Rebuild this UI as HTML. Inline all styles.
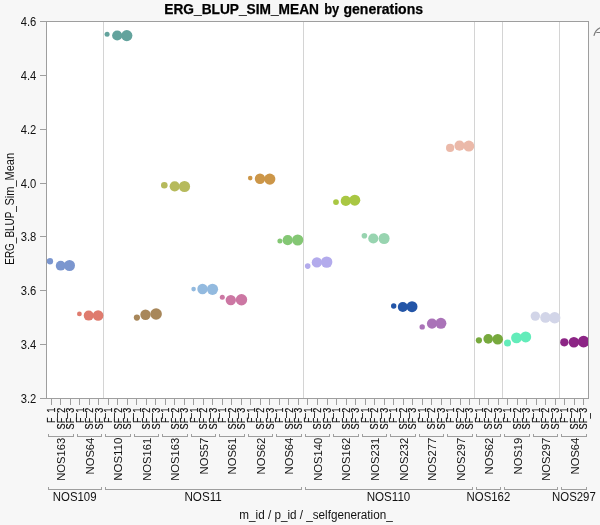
<!DOCTYPE html>
<html lang="en"><head><meta charset="utf-8"><title>ERG_BLUP_SIM_MEAN by generations</title>
<style>html,body{margin:0;padding:0;background:#f7f7f7;}body{width:600px;height:525px;overflow:hidden;}svg{display:block;font-family:'Liberation Sans', Arial, sans-serif;}text{fill:#111111;}</style>
</head><body>
<svg width="600" height="525" viewBox="0 0 600 525">
<rect x="0" y="0" width="600" height="525" fill="#f7f7f7"/>
<rect x="46.5" y="21.5" width="542.0" height="377.0" fill="#ffffff"/>
<clipPath id="pc"><rect x="47.0" y="22.0" width="541.0" height="376.0"/></clipPath>
<g stroke="#d4d4d4" stroke-width="1" shape-rendering="crispEdges">
<line x1="103.5" y1="22" x2="103.5" y2="398"/>
<line x1="303.5" y1="22" x2="303.5" y2="398"/>
<line x1="474.5" y1="22" x2="474.5" y2="398"/>
<line x1="502.5" y1="22" x2="502.5" y2="398"/>
<line x1="559.5" y1="22" x2="559.5" y2="398"/>
</g>
<g clip-path="url(#pc)">
<g fill="#7b96cf"><circle cx="49.9" cy="261.2" r="3.2"/><circle cx="60.7" cy="265.7" r="4.9"/><circle cx="69.5" cy="265.5" r="5.5"/></g>
<g fill="#df7b6e"><circle cx="79.4" cy="313.9" r="2.4"/><circle cx="88.7" cy="315.6" r="5.0"/><circle cx="98.1" cy="315.5" r="5.3"/></g>
<g fill="#63a39d"><circle cx="107.1" cy="34.3" r="2.5"/><circle cx="117.2" cy="35.5" r="5.1"/><circle cx="126.8" cy="35.6" r="5.6"/></g>
<g fill="#a8875a"><circle cx="136.9" cy="317.6" r="3.1"/><circle cx="145.5" cy="314.7" r="5.2"/><circle cx="156.1" cy="314.0" r="5.8"/></g>
<g fill="#b6ba5c"><circle cx="164.3" cy="185.3" r="3.3"/><circle cx="174.7" cy="186.3" r="5.1"/><circle cx="184.5" cy="186.5" r="5.6"/></g>
<g fill="#93badf"><circle cx="193.6" cy="289.1" r="2.3"/><circle cx="202.5" cy="289.0" r="5.2"/><circle cx="212.5" cy="289.3" r="5.6"/></g>
<g fill="#cc77a3"><circle cx="222.3" cy="297.3" r="2.5"/><circle cx="230.8" cy="300.1" r="5.2"/><circle cx="241.5" cy="299.7" r="5.7"/></g>
<g fill="#cc9648"><circle cx="250.2" cy="178.1" r="2.3"/><circle cx="260.0" cy="178.8" r="5.2"/><circle cx="269.8" cy="179.1" r="5.6"/></g>
<g fill="#84c774"><circle cx="279.9" cy="240.9" r="2.5"/><circle cx="287.7" cy="240.2" r="5.1"/><circle cx="297.7" cy="240.0" r="5.6"/></g>
<g fill="#b3abec"><circle cx="307.7" cy="266.1" r="2.8"/><circle cx="316.9" cy="262.4" r="5.2"/><circle cx="326.7" cy="262.1" r="5.7"/></g>
<g fill="#a9c743"><circle cx="336.0" cy="202.1" r="2.9"/><circle cx="345.8" cy="200.9" r="5.1"/><circle cx="354.8" cy="200.2" r="5.5"/></g>
<g fill="#98d4b0"><circle cx="364.4" cy="235.8" r="2.8"/><circle cx="373.3" cy="238.5" r="5.1"/><circle cx="384.1" cy="238.5" r="5.5"/></g>
<g fill="#2355a7"><circle cx="393.7" cy="306.0" r="2.7"/><circle cx="402.8" cy="307.0" r="5.0"/><circle cx="412.0" cy="306.7" r="5.5"/></g>
<g fill="#aa73b8"><circle cx="422.2" cy="326.9" r="2.7"/><circle cx="432.0" cy="323.6" r="5.1"/><circle cx="440.9" cy="323.3" r="5.5"/></g>
<g fill="#ebb9a9"><circle cx="450.1" cy="147.9" r="4.1"/><circle cx="459.5" cy="145.7" r="5.1"/><circle cx="468.8" cy="146.1" r="5.5"/></g>
<g fill="#77a93d"><circle cx="478.9" cy="340.3" r="3.1"/><circle cx="488.2" cy="338.9" r="4.8"/><circle cx="497.7" cy="339.2" r="5.3"/></g>
<g fill="#63ecba"><circle cx="507.5" cy="343.0" r="3.5"/><circle cx="516.5" cy="337.9" r="5.4"/><circle cx="525.7" cy="336.9" r="5.5"/></g>
<g fill="#d2d5e8"><circle cx="535.3" cy="316.1" r="4.7"/><circle cx="545.5" cy="317.4" r="5.3"/><circle cx="554.7" cy="317.8" r="5.7"/></g>
<g fill="#8c2585"><circle cx="564.3" cy="342.3" r="4.1"/><circle cx="573.9" cy="342.3" r="5.3"/><circle cx="583.6" cy="341.6" r="5.8"/></g>
</g>
<rect x="46.5" y="21.5" width="542.0" height="377.0" fill="none" stroke="#9e9e9e" stroke-width="1" shape-rendering="crispEdges"/>
<g stroke="#9e9e9e" stroke-width="1" shape-rendering="crispEdges">
<line x1="40" y1="21.5" x2="46" y2="21.5"/>
<line x1="40" y1="75.5" x2="46" y2="75.5"/>
<line x1="40" y1="129.5" x2="46" y2="129.5"/>
<line x1="40" y1="183.5" x2="46" y2="183.5"/>
<line x1="40" y1="236.5" x2="46" y2="236.5"/>
<line x1="40" y1="290.5" x2="46" y2="290.5"/>
<line x1="40" y1="344.5" x2="46" y2="344.5"/>
<line x1="40" y1="398.5" x2="46" y2="398.5"/>
<line x1="51.5" y1="399" x2="51.5" y2="405"/>
<line x1="60.5" y1="399" x2="60.5" y2="405"/>
<line x1="70.5" y1="399" x2="70.5" y2="405"/>
<line x1="79.5" y1="399" x2="79.5" y2="405"/>
<line x1="89.5" y1="399" x2="89.5" y2="405"/>
<line x1="98.5" y1="399" x2="98.5" y2="405"/>
<line x1="108.5" y1="399" x2="108.5" y2="405"/>
<line x1="117.5" y1="399" x2="117.5" y2="405"/>
<line x1="127.5" y1="399" x2="127.5" y2="405"/>
<line x1="136.5" y1="399" x2="136.5" y2="405"/>
<line x1="146.5" y1="399" x2="146.5" y2="405"/>
<line x1="155.5" y1="399" x2="155.5" y2="405"/>
<line x1="165.5" y1="399" x2="165.5" y2="405"/>
<line x1="174.5" y1="399" x2="174.5" y2="405"/>
<line x1="184.5" y1="399" x2="184.5" y2="405"/>
<line x1="193.5" y1="399" x2="193.5" y2="405"/>
<line x1="203.5" y1="399" x2="203.5" y2="405"/>
<line x1="212.5" y1="399" x2="212.5" y2="405"/>
<line x1="222.5" y1="399" x2="222.5" y2="405"/>
<line x1="231.5" y1="399" x2="231.5" y2="405"/>
<line x1="241.5" y1="399" x2="241.5" y2="405"/>
<line x1="250.5" y1="399" x2="250.5" y2="405"/>
<line x1="260.5" y1="399" x2="260.5" y2="405"/>
<line x1="269.5" y1="399" x2="269.5" y2="405"/>
<line x1="279.5" y1="399" x2="279.5" y2="405"/>
<line x1="288.5" y1="399" x2="288.5" y2="405"/>
<line x1="298.5" y1="399" x2="298.5" y2="405"/>
<line x1="307.5" y1="399" x2="307.5" y2="405"/>
<line x1="317.5" y1="399" x2="317.5" y2="405"/>
<line x1="327.5" y1="399" x2="327.5" y2="405"/>
<line x1="336.5" y1="399" x2="336.5" y2="405"/>
<line x1="346.5" y1="399" x2="346.5" y2="405"/>
<line x1="355.5" y1="399" x2="355.5" y2="405"/>
<line x1="365.5" y1="399" x2="365.5" y2="405"/>
<line x1="374.5" y1="399" x2="374.5" y2="405"/>
<line x1="384.5" y1="399" x2="384.5" y2="405"/>
<line x1="393.5" y1="399" x2="393.5" y2="405"/>
<line x1="403.5" y1="399" x2="403.5" y2="405"/>
<line x1="412.5" y1="399" x2="412.5" y2="405"/>
<line x1="422.5" y1="399" x2="422.5" y2="405"/>
<line x1="431.5" y1="399" x2="431.5" y2="405"/>
<line x1="441.5" y1="399" x2="441.5" y2="405"/>
<line x1="450.5" y1="399" x2="450.5" y2="405"/>
<line x1="460.5" y1="399" x2="460.5" y2="405"/>
<line x1="469.5" y1="399" x2="469.5" y2="405"/>
<line x1="479.5" y1="399" x2="479.5" y2="405"/>
<line x1="488.5" y1="399" x2="488.5" y2="405"/>
<line x1="498.5" y1="399" x2="498.5" y2="405"/>
<line x1="507.5" y1="399" x2="507.5" y2="405"/>
<line x1="517.5" y1="399" x2="517.5" y2="405"/>
<line x1="526.5" y1="399" x2="526.5" y2="405"/>
<line x1="536.5" y1="399" x2="536.5" y2="405"/>
<line x1="545.5" y1="399" x2="545.5" y2="405"/>
<line x1="555.5" y1="399" x2="555.5" y2="405"/>
<line x1="564.5" y1="399" x2="564.5" y2="405"/>
<line x1="574.5" y1="399" x2="574.5" y2="405"/>
<line x1="583.5" y1="399" x2="583.5" y2="405"/>
</g>
<g font-size="12" text-anchor="end">
<text x="36.3" y="25.9" textLength="15.6" lengthAdjust="spacingAndGlyphs">4.6</text>
<text x="36.3" y="79.9" textLength="15.6" lengthAdjust="spacingAndGlyphs">4.4</text>
<text x="36.3" y="133.9" textLength="15.6" lengthAdjust="spacingAndGlyphs">4.2</text>
<text x="36.3" y="187.9" textLength="15.6" lengthAdjust="spacingAndGlyphs">4.0</text>
<text x="36.3" y="240.9" textLength="15.6" lengthAdjust="spacingAndGlyphs">3.8</text>
<text x="36.3" y="294.9" textLength="15.6" lengthAdjust="spacingAndGlyphs">3.6</text>
<text x="36.3" y="348.9" textLength="15.6" lengthAdjust="spacingAndGlyphs">3.4</text>
<text x="36.3" y="402.9" textLength="15.6" lengthAdjust="spacingAndGlyphs">3.2</text>
</g>
<text font-size="14" font-weight="bold" style="fill:#000;stroke:#000;stroke-width:0.25" y="14.2"><tspan x="164.3" textLength="154.7" lengthAdjust="spacingAndGlyphs">ERG_BLUP_SIM_MEAN</tspan> <tspan x="324.2" textLength="15" lengthAdjust="spacingAndGlyphs">by</tspan> <tspan x="343.5" textLength="79.5" lengthAdjust="spacingAndGlyphs">generations</tspan></text>
<text font-size="12" transform="translate(13.7,264.7) rotate(-90)"><tspan x="0" textLength="58.6" lengthAdjust="spacingAndGlyphs">ERG_BLUP_</tspan><tspan x="59.2" textLength="52.5" lengthAdjust="spacingAndGlyphs">Sim_Mean</tspan></text>
<text font-size="12" x="239.3" y="518.6" textLength="153.4" lengthAdjust="spacingAndGlyphs">m_id / p_id / _selfgeneration_</text>
<g font-size="10.8" style="fill:#000;stroke:#000;stroke-width:0.2">
<text transform="translate(55.0,422.9) rotate(-90) scale(0.83,1)" x="0 6.2 12.5" dy="0 1.4 -1.4">F_1</text>
<text transform="translate(64.5,429.5) rotate(-90) scale(0.83,1)" x="0 7.45 13.65 20.05" dy="0 0 1.4 -1.4">SF_2</text>
<text transform="translate(74.0,429.5) rotate(-90) scale(0.83,1)" x="0 7.45 13.65 20.05" dy="0 0 1.4 -1.4">SF_3</text>
<text transform="translate(83.5,422.9) rotate(-90) scale(0.83,1)" x="0 6.2 12.5" dy="0 1.4 -1.4">F_1</text>
<text transform="translate(93.0,429.5) rotate(-90) scale(0.83,1)" x="0 7.45 13.65 20.05" dy="0 0 1.4 -1.4">SF_2</text>
<text transform="translate(102.5,429.5) rotate(-90) scale(0.83,1)" x="0 7.45 13.65 20.05" dy="0 0 1.4 -1.4">SF_3</text>
<text transform="translate(112.0,422.9) rotate(-90) scale(0.83,1)" x="0 6.2 12.5" dy="0 1.4 -1.4">F_1</text>
<text transform="translate(121.5,429.5) rotate(-90) scale(0.83,1)" x="0 7.45 13.65 20.05" dy="0 0 1.4 -1.4">SF_2</text>
<text transform="translate(131.0,429.5) rotate(-90) scale(0.83,1)" x="0 7.45 13.65 20.05" dy="0 0 1.4 -1.4">SF_3</text>
<text transform="translate(140.5,422.9) rotate(-90) scale(0.83,1)" x="0 6.2 12.5" dy="0 1.4 -1.4">F_1</text>
<text transform="translate(150.0,429.5) rotate(-90) scale(0.83,1)" x="0 7.45 13.65 20.05" dy="0 0 1.4 -1.4">SF_2</text>
<text transform="translate(159.6,429.5) rotate(-90) scale(0.83,1)" x="0 7.45 13.65 20.05" dy="0 0 1.4 -1.4">SF_3</text>
<text transform="translate(169.1,422.9) rotate(-90) scale(0.83,1)" x="0 6.2 12.5" dy="0 1.4 -1.4">F_1</text>
<text transform="translate(178.6,429.5) rotate(-90) scale(0.83,1)" x="0 7.45 13.65 20.05" dy="0 0 1.4 -1.4">SF_2</text>
<text transform="translate(188.1,429.5) rotate(-90) scale(0.83,1)" x="0 7.45 13.65 20.05" dy="0 0 1.4 -1.4">SF_3</text>
<text transform="translate(197.6,422.9) rotate(-90) scale(0.83,1)" x="0 6.2 12.5" dy="0 1.4 -1.4">F_1</text>
<text transform="translate(207.1,429.5) rotate(-90) scale(0.83,1)" x="0 7.45 13.65 20.05" dy="0 0 1.4 -1.4">SF_2</text>
<text transform="translate(216.6,429.5) rotate(-90) scale(0.83,1)" x="0 7.45 13.65 20.05" dy="0 0 1.4 -1.4">SF_3</text>
<text transform="translate(226.1,422.9) rotate(-90) scale(0.83,1)" x="0 6.2 12.5" dy="0 1.4 -1.4">F_1</text>
<text transform="translate(235.6,429.5) rotate(-90) scale(0.83,1)" x="0 7.45 13.65 20.05" dy="0 0 1.4 -1.4">SF_2</text>
<text transform="translate(245.1,429.5) rotate(-90) scale(0.83,1)" x="0 7.45 13.65 20.05" dy="0 0 1.4 -1.4">SF_3</text>
<text transform="translate(254.6,422.9) rotate(-90) scale(0.83,1)" x="0 6.2 12.5" dy="0 1.4 -1.4">F_1</text>
<text transform="translate(264.1,429.5) rotate(-90) scale(0.83,1)" x="0 7.45 13.65 20.05" dy="0 0 1.4 -1.4">SF_2</text>
<text transform="translate(273.7,429.5) rotate(-90) scale(0.83,1)" x="0 7.45 13.65 20.05" dy="0 0 1.4 -1.4">SF_3</text>
<text transform="translate(283.2,422.9) rotate(-90) scale(0.83,1)" x="0 6.2 12.5" dy="0 1.4 -1.4">F_1</text>
<text transform="translate(292.7,429.5) rotate(-90) scale(0.83,1)" x="0 7.45 13.65 20.05" dy="0 0 1.4 -1.4">SF_2</text>
<text transform="translate(302.2,429.5) rotate(-90) scale(0.83,1)" x="0 7.45 13.65 20.05" dy="0 0 1.4 -1.4">SF_3</text>
<text transform="translate(311.7,422.9) rotate(-90) scale(0.83,1)" x="0 6.2 12.5" dy="0 1.4 -1.4">F_1</text>
<text transform="translate(321.2,429.5) rotate(-90) scale(0.83,1)" x="0 7.45 13.65 20.05" dy="0 0 1.4 -1.4">SF_2</text>
<text transform="translate(330.7,429.5) rotate(-90) scale(0.83,1)" x="0 7.45 13.65 20.05" dy="0 0 1.4 -1.4">SF_3</text>
<text transform="translate(340.2,422.9) rotate(-90) scale(0.83,1)" x="0 6.2 12.5" dy="0 1.4 -1.4">F_1</text>
<text transform="translate(349.7,429.5) rotate(-90) scale(0.83,1)" x="0 7.45 13.65 20.05" dy="0 0 1.4 -1.4">SF_2</text>
<text transform="translate(359.2,429.5) rotate(-90) scale(0.83,1)" x="0 7.45 13.65 20.05" dy="0 0 1.4 -1.4">SF_3</text>
<text transform="translate(368.7,422.9) rotate(-90) scale(0.83,1)" x="0 6.2 12.5" dy="0 1.4 -1.4">F_1</text>
<text transform="translate(378.3,429.5) rotate(-90) scale(0.83,1)" x="0 7.45 13.65 20.05" dy="0 0 1.4 -1.4">SF_2</text>
<text transform="translate(387.8,429.5) rotate(-90) scale(0.83,1)" x="0 7.45 13.65 20.05" dy="0 0 1.4 -1.4">SF_3</text>
<text transform="translate(397.3,422.9) rotate(-90) scale(0.83,1)" x="0 6.2 12.5" dy="0 1.4 -1.4">F_1</text>
<text transform="translate(406.8,429.5) rotate(-90) scale(0.83,1)" x="0 7.45 13.65 20.05" dy="0 0 1.4 -1.4">SF_2</text>
<text transform="translate(416.3,429.5) rotate(-90) scale(0.83,1)" x="0 7.45 13.65 20.05" dy="0 0 1.4 -1.4">SF_3</text>
<text transform="translate(425.8,422.9) rotate(-90) scale(0.83,1)" x="0 6.2 12.5" dy="0 1.4 -1.4">F_1</text>
<text transform="translate(435.3,429.5) rotate(-90) scale(0.83,1)" x="0 7.45 13.65 20.05" dy="0 0 1.4 -1.4">SF_2</text>
<text transform="translate(444.8,429.5) rotate(-90) scale(0.83,1)" x="0 7.45 13.65 20.05" dy="0 0 1.4 -1.4">SF_3</text>
<text transform="translate(454.3,422.9) rotate(-90) scale(0.83,1)" x="0 6.2 12.5" dy="0 1.4 -1.4">F_1</text>
<text transform="translate(463.8,429.5) rotate(-90) scale(0.83,1)" x="0 7.45 13.65 20.05" dy="0 0 1.4 -1.4">SF_2</text>
<text transform="translate(473.3,429.5) rotate(-90) scale(0.83,1)" x="0 7.45 13.65 20.05" dy="0 0 1.4 -1.4">SF_3</text>
<text transform="translate(482.8,422.9) rotate(-90) scale(0.83,1)" x="0 6.2 12.5" dy="0 1.4 -1.4">F_1</text>
<text transform="translate(492.4,429.5) rotate(-90) scale(0.83,1)" x="0 7.45 13.65 20.05" dy="0 0 1.4 -1.4">SF_2</text>
<text transform="translate(501.9,429.5) rotate(-90) scale(0.83,1)" x="0 7.45 13.65 20.05" dy="0 0 1.4 -1.4">SF_3</text>
<text transform="translate(511.4,422.9) rotate(-90) scale(0.83,1)" x="0 6.2 12.5" dy="0 1.4 -1.4">F_1</text>
<text transform="translate(520.9,429.5) rotate(-90) scale(0.83,1)" x="0 7.45 13.65 20.05" dy="0 0 1.4 -1.4">SF_2</text>
<text transform="translate(530.4,429.5) rotate(-90) scale(0.83,1)" x="0 7.45 13.65 20.05" dy="0 0 1.4 -1.4">SF_3</text>
<text transform="translate(539.9,422.9) rotate(-90) scale(0.83,1)" x="0 6.2 12.5" dy="0 1.4 -1.4">F_1</text>
<text transform="translate(549.4,429.5) rotate(-90) scale(0.83,1)" x="0 7.45 13.65 20.05" dy="0 0 1.4 -1.4">SF_2</text>
<text transform="translate(558.9,429.5) rotate(-90) scale(0.83,1)" x="0 7.45 13.65 20.05" dy="0 0 1.4 -1.4">SF_3</text>
<text transform="translate(568.4,422.9) rotate(-90) scale(0.83,1)" x="0 6.2 12.5" dy="0 1.4 -1.4">F_1</text>
<text transform="translate(577.9,429.5) rotate(-90) scale(0.83,1)" x="0 7.45 13.65 20.05" dy="0 0 1.4 -1.4">SF_2</text>
<text transform="translate(587.4,429.5) rotate(-90) scale(0.83,1)" x="0 7.45 13.65 20.05" dy="0 0 1.4 -1.4">SF_3</text>
</g>
<g stroke="#9e9e9e" stroke-width="1" fill="none" shape-rendering="crispEdges">
<path d="M48.5 434V436.5H73.5V434"/>
<path d="M77.5 434V436.5H101.5V434"/>
<path d="M105.5 434V436.5H130.5V434"/>
<path d="M134.5 434V436.5H158.5V434"/>
<path d="M162.5 434V436.5H187.5V434"/>
<path d="M191.5 434V436.5H215.5V434"/>
<path d="M219.5 434V436.5H244.5V434"/>
<path d="M248.5 434V436.5H272.5V434"/>
<path d="M276.5 434V436.5H301.5V434"/>
<path d="M305.5 434V436.5H329.5V434"/>
<path d="M333.5 434V436.5H358.5V434"/>
<path d="M362.5 434V436.5H386.5V434"/>
<path d="M390.5 434V436.5H415.5V434"/>
<path d="M419.5 434V436.5H443.5V434"/>
<path d="M447.5 434V436.5H472.5V434"/>
<path d="M476.5 434V436.5H500.5V434"/>
<path d="M504.5 434V436.5H529.5V434"/>
<path d="M533.5 434V436.5H557.5V434"/>
<path d="M561.5 434V436.5H586.5V434"/>
<path d="M48.5 487V489.5H101.5V487"/>
<path d="M105.5 487V489.5H301.5V487"/>
<path d="M305.5 487V489.5H472.5V487"/>
<path d="M476.5 487V489.5H500.5V487"/>
<path d="M504.5 487V489.5H557.5V487"/>
<path d="M561.5 487V489.5H586.5V487"/>
</g>
<g font-size="11.7" text-anchor="end">
<text transform="translate(65.2,437.7) rotate(-90)" textLength="43.1" lengthAdjust="spacingAndGlyphs">NOS163</text>
<text transform="translate(93.7,437.7) rotate(-90)" textLength="36.7" lengthAdjust="spacingAndGlyphs">NOS64</text>
<text transform="translate(122.2,437.7) rotate(-90)" textLength="43.1" lengthAdjust="spacingAndGlyphs">NOS110</text>
<text transform="translate(150.7,437.7) rotate(-90)" textLength="43.1" lengthAdjust="spacingAndGlyphs">NOS161</text>
<text transform="translate(179.3,437.7) rotate(-90)" textLength="43.1" lengthAdjust="spacingAndGlyphs">NOS163</text>
<text transform="translate(207.8,437.7) rotate(-90)" textLength="36.7" lengthAdjust="spacingAndGlyphs">NOS57</text>
<text transform="translate(236.3,437.7) rotate(-90)" textLength="36.7" lengthAdjust="spacingAndGlyphs">NOS61</text>
<text transform="translate(264.8,437.7) rotate(-90)" textLength="36.7" lengthAdjust="spacingAndGlyphs">NOS62</text>
<text transform="translate(293.4,437.7) rotate(-90)" textLength="36.7" lengthAdjust="spacingAndGlyphs">NOS64</text>
<text transform="translate(321.9,437.7) rotate(-90)" textLength="43.1" lengthAdjust="spacingAndGlyphs">NOS140</text>
<text transform="translate(350.4,437.7) rotate(-90)" textLength="43.1" lengthAdjust="spacingAndGlyphs">NOS162</text>
<text transform="translate(379.0,437.7) rotate(-90)" textLength="43.1" lengthAdjust="spacingAndGlyphs">NOS231</text>
<text transform="translate(407.5,437.7) rotate(-90)" textLength="43.1" lengthAdjust="spacingAndGlyphs">NOS232</text>
<text transform="translate(436.0,437.7) rotate(-90)" textLength="43.1" lengthAdjust="spacingAndGlyphs">NOS277</text>
<text transform="translate(464.5,437.7) rotate(-90)" textLength="43.1" lengthAdjust="spacingAndGlyphs">NOS297</text>
<text transform="translate(493.1,437.7) rotate(-90)" textLength="36.7" lengthAdjust="spacingAndGlyphs">NOS62</text>
<text transform="translate(521.6,437.7) rotate(-90)" textLength="36.7" lengthAdjust="spacingAndGlyphs">NOS19</text>
<text transform="translate(550.1,437.7) rotate(-90)" textLength="43.1" lengthAdjust="spacingAndGlyphs">NOS297</text>
<text transform="translate(578.6,437.7) rotate(-90)" textLength="36.7" lengthAdjust="spacingAndGlyphs">NOS64</text>
</g>
<g font-size="12" text-anchor="middle">
<text x="74.7" y="500.6" textLength="43.7" lengthAdjust="spacingAndGlyphs">NOS109</text>
<text x="203.1" y="500.6" textLength="37.3" lengthAdjust="spacingAndGlyphs">NOS11</text>
<text x="388.5" y="500.6" textLength="43.7" lengthAdjust="spacingAndGlyphs">NOS110</text>
<text x="488.4" y="500.6" textLength="43.7" lengthAdjust="spacingAndGlyphs">NOS162</text>
<text x="573.9" y="500.6" textLength="43.7" lengthAdjust="spacingAndGlyphs">NOS297</text>
</g>
<path d="M593.9 35.8C594.9 31.8 597.2 28.8 600.5 27.6M596.3 32.5H601" fill="none" stroke="#7a7a7a" stroke-width="1.1"/>
</svg></body></html>
